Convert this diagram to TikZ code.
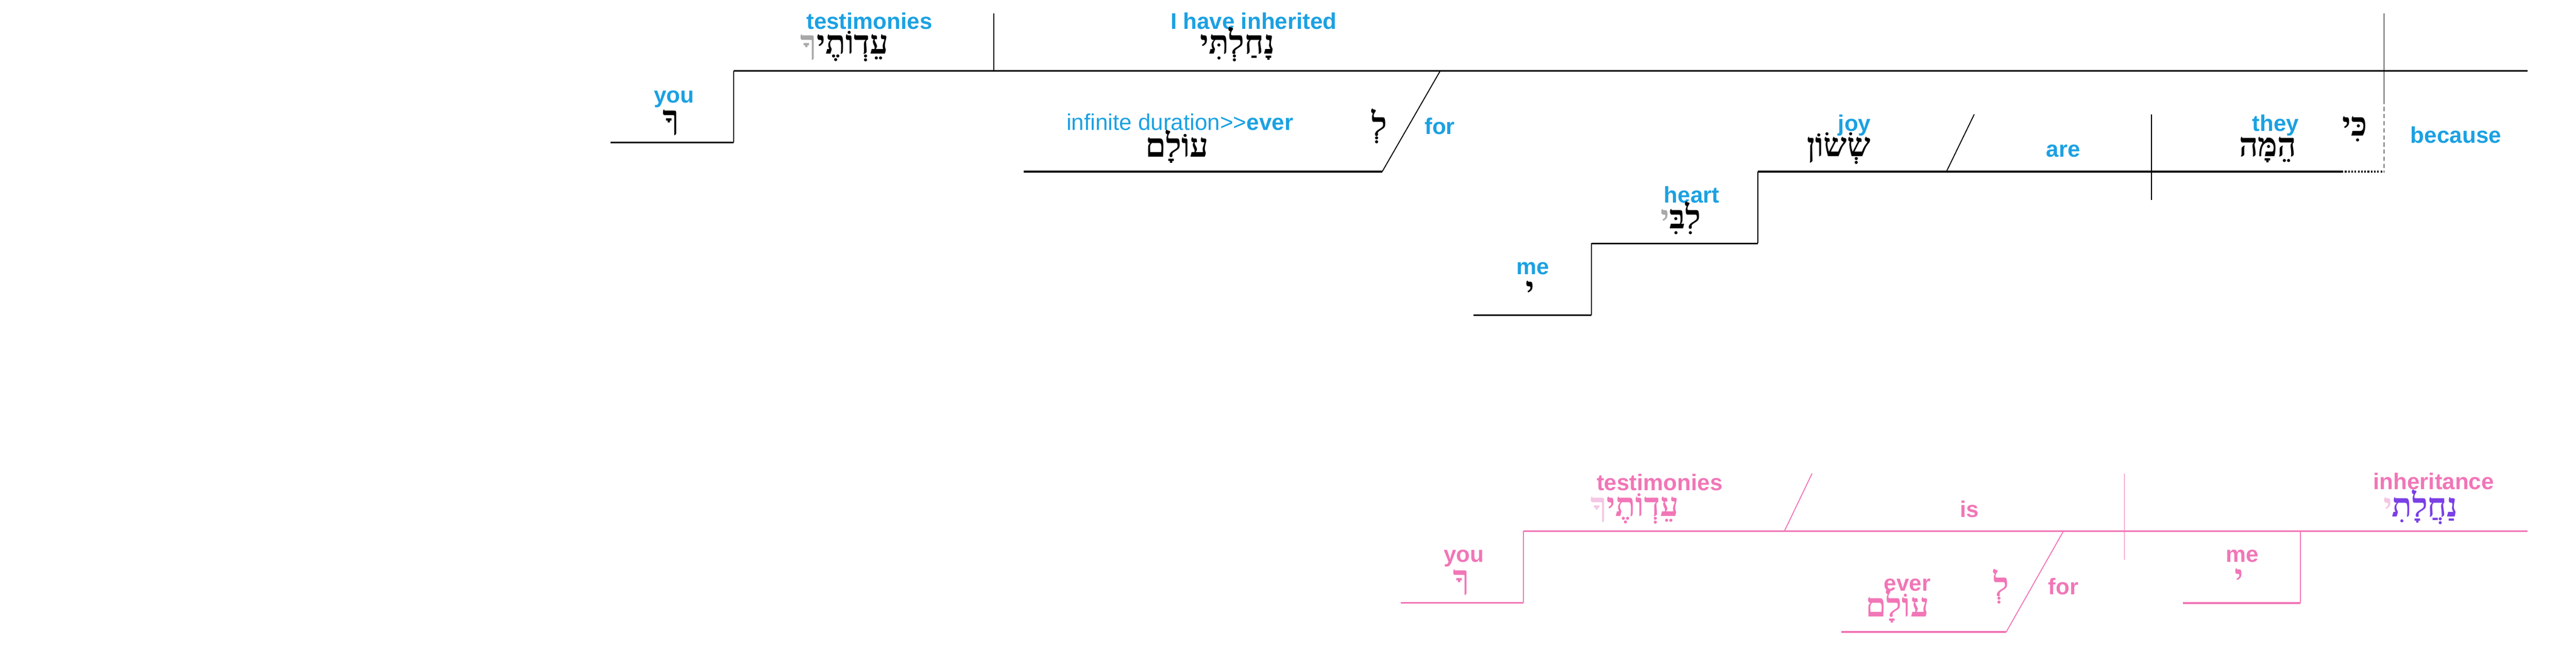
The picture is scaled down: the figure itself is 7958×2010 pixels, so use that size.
\documentclass[tikz,border=0pt]{standalone}
\usepackage{fontspec}
\setmainfont{Liberation Sans}
\newfontfamily\heb[Script=Hebrew]{Liberation Serif}
\TeXXeTstate=1
\newcommand{\hbw}[1]{\beginR #1\endR}
\definecolor{eblue}{HTML}{1BA1E2}
\definecolor{epink}{HTML}{F176B7}
\definecolor{lpink}{HTML}{F5C6E4}
\definecolor{epurple}{HTML}{7A3FE6}
\definecolor{egray}{HTML}{A8A8A8}
\tikzset{
  en/.style={anchor=base, text=eblue, font=\fontsize{7}{8}\selectfont\bfseries, inner sep=0pt},
  enp/.style={en, text=epink},
  he/.style={anchor=base, font=\heb\fontsize{10.2}{11}\selectfont\bfseries, inner sep=0pt},
  thickln/.style={line width=0.55pt},
  thinln/.style={line width=0.3pt},
}
\begin{document}
\begin{tikzpicture}[x=0.1pt,y=-0.1pt]
\useasboundingbox (0,0) rectangle (7958,2010);
% ---------------- top diagram ----------------
\coordinate (a1) at (1886,440);
\coordinate (a2) at (2266,440);
\coordinate (a3) at (2266,219);
\coordinate (a4) at (7808,219);
\draw[thickln] (a1) -- (a2);
\draw[thinln] (a2) -- (a3);
\draw[thickln] (a3) -- (a4);
\coordinate (d1) at (3070,41);
\coordinate (d2) at (3070,219);
\draw[thinln] (d1) -- (d2);
\coordinate (v1) at (7365,41);
\coordinate (v2) at (7365,308);
\coordinate (v3) at (7365,531);
\draw[thinln] (v1) -- (v2);
\draw[thinln, dash pattern=on 1.3pt off 0.9pt] (v2) -- (v3);
\coordinate (b1) at (5430,530);
\coordinate (b2) at (7234,530);
\coordinate (b3) at (7365,530);
\draw[thickln] (b1) -- (b2);
\draw[thickln, dash pattern=on 0.5pt off 0.5pt] (b2) -- (b3);
\coordinate (c1) at (6646,353);
\coordinate (c2) at (6646,618);
\draw[thinln] (c1) -- (c2);
\coordinate (s1) at (6099,353);
\coordinate (s2) at (6013,530);
\draw[thinln] (s1) -- (s2);
\coordinate (h1) at (5430,752);
\coordinate (h2) at (4917,752);
\coordinate (h3) at (4917,973);
\coordinate (h4) at (4552,973);
\draw[thinln] (b1) -- (h1);
\draw[thickln] (h1) -- (h2);
\draw[thinln] (h2) -- (h3);
\draw[thickln] (h3) -- (h4);
\coordinate (f1) at (4448,221);
\coordinate (f2) at (4270,530);
\coordinate (f3) at (3163,530);
\draw[thinln] (f1) -- (f2);
\draw[thickln] (f3) -- (f2);
% labels top
\node[en] (testEn) at (2686,90) {testimonies};
\node[he] (testHe) at (2609,167) {{\color{egray}\hbw{ךָ}}\hbw{עֵדְוֹתֶי}};
\node[en] (inhEn) at (3873,90) {I have inherited};
\node[he] (inhHe) at (3823,167) {\hbw{נָחַלְתִּי}};
\node[en] (youEn) at (2082,318) {you};
\node[he] (youHe) at (2073,398) {\hbw{ךָ}};
\node[en] (everEn) at (3645,402) {{\mdseries infinite duration>{}>}ever};
\node[he] (everHe) at (3636,484) {\hbw{עוֹלָם}};
\node[he] (leHe) at (4261,419) {\hbw{לְ}};
\node[en] (forEn) at (4448,415) {for};
\node[en] (joyEn) at (5729,405) {joy};
\node[he] (joyHe) at (5680,483) {\hbw{שְׂשׂוֹן}};
\node[en] (areEn) at (6374,484) {are};
\node[en] (theyEn) at (7030,405) {they};
\node[he] (theyHe) at (7006,483) {\hbw{הֵמָּה}};
\node[he] (kiHe) at (7275,420) {\hbw{כִּי}};
\node[en] (becEn) at (7587,442) {because};
\node[en] (heartEn) at (5226,626) {heart};
\node[he] (heartHe) at (5192,706) {{\color{egray}\hbw{י}}\hbw{לִבִּ}};
\node[en] (meEn) at (4736,848) {me};
\node[he] (meHe) at (4727,927) {\hbw{י}};
% ---------------- bottom diagram ----------------
\coordinate (p1) at (4328,1861);
\coordinate (p2) at (4706,1861);
\coordinate (p3) at (4706,1640);
\coordinate (p4) at (7809,1640);
\draw[thickln, epink] (p1) -- (p2);
\draw[thinln, epink] (p2) -- (p3);
\draw[thickln, epink] (p3) -- (p4);
\coordinate (q1) at (5598,1462);
\coordinate (q2) at (5513,1639);
\draw[thinln, epink] (q1) -- (q2);
\coordinate (r1) at (6563,1462);
\coordinate (r2) at (6563,1729);
\draw[thinln, epink] (r1) -- (r2);
\coordinate (g1) at (6374,1641);
\coordinate (g2) at (6198,1951);
\coordinate (g3) at (5689,1951);
\draw[thinln, epink] (g1) -- (g2);
\draw[thickln, epink] (g3) -- (g2);
\coordinate (m1) at (7107,1640);
\coordinate (m2) at (7107,1862);
\coordinate (m3) at (6743,1862);
\draw[thinln, epink] (m1) -- (m2);
\draw[thickln, epink] (m2) -- (m3);
\node[enp] (bTestEn) at (5127,1515) {testimonies};
\node[he, text=epink] (bTestHe) at (5050,1594) {{\color{lpink}\hbw{ךָ}}\hbw{עֵדְוֹתֶי}};
\node[enp] (bIsEn) at (6084,1597) {is};
\node[enp] (bYouEn) at (4522,1735) {you};
\node[he, text=epink] (bYouHe) at (4514,1818) {\hbw{ךָ}};
\node[enp] (bEverEn) at (5892,1825) {ever};
\node[he, text=epink] (bEverHe) at (5862,1905) {\hbw{עוֹלָם}};
\node[he, text=epink] (bLeHe) at (6183,1840) {\hbw{לְ}};
\node[enp] (bForEn) at (6374,1836) {for};
\node[enp] (bInhEn) at (7518,1512) {inheritance};
\node[he, text=epurple] (bInhHe) at (7478,1595) {{\color{lpink}\hbw{י}}\hbw{נַחֲלָתִ}};
\node[enp] (bMeEn) at (6927,1735) {me};
\node[he, text=epink] (bMeHe) at (6917,1816) {\hbw{י}};
\end{tikzpicture}
\end{document}
